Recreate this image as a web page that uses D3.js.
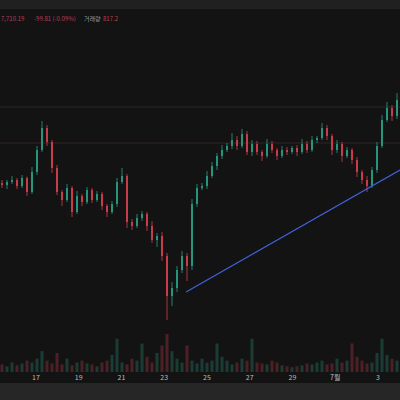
<!DOCTYPE html>
<html><head><meta charset="utf-8">
<script src="https://cdn.jsdelivr.net/npm/d3@7"></script>
<style>body{margin:0;background:#131313}svg{display:block}</style>
</head><body><svg id="c" width="400" height="400"></svg>
<script>
// closes, one per candle
const closes = [7510,7516,7520,7508,7524,7496,7536,7580,7624,7596,7544,7496,7480,7504,7456,7488,7476,7500,7480,7492,7468,7456,7472,7516,7528,7436,7428,7444,7452,7428,7400,7408,7368,7288,7304,7340,7368,7348,7472,7504,7508,7528,7548,7568,7580,7588,7600,7588,7612,7576,7592,7576,7568,7592,7580,7568,7580,7576,7584,7576,7592,7580,7600,7604,7624,7608,7580,7592,7568,7580,7560,7536,7520,7508,7540,7588,7640,7664,7648,7680,7690];
const wickUp = [6,4,8,4,6,3,10,8,14,6,4,6,4,8,4,10,4,6,4,6,4,4,6,8,16,4,6,8,6,4,10,6,8,6,12,8,10,6,10,8,6,10,8,6,10,6,14,8,10,6,8,6,4,10,6,4,8,6,4,6,10,6,8,4,10,6,4,8,4,6,4,6,4,8,6,8,10,12,6,14,10];
const wickDn = [6,8,4,6,4,8,4,6,4,8,10,6,12,4,10,4,8,4,6,4,8,10,4,6,4,12,8,4,6,10,6,14,10,48,20,8,6,30,8,6,4,6,4,8,6,4,6,8,4,6,8,6,10,4,6,8,4,6,4,8,4,6,4,6,4,8,10,6,12,4,8,10,8,12,4,6,4,4,10,6,4];
const volumes = [8,6,10,7,9,12,10,14,22,12,9,20,8,14,7,10,12,9,8,6,10,12,18,35,10,8,14,12,30,16,10,20,28,40,22,14,10,28,12,9,14,10,12,30,16,12,8,10,14,12,35,10,9,8,12,10,7,6,5,6,7,9,8,10,12,8,9,14,10,12,30,16,12,9,10,20,35,18,14,12,16];
const dayTicks = [17,19,21,23,25,27,29,31,33];
const dayLabels = ["17","19","21","23","25","27","29","7월","3"];
const levels = [7666,7594];
const trend = [{d:24.02,p:7296},{d:34.03,p:7540}];
const header = [["7,710.19",1],["-99.81 (-0.09%)",34],["거래량",84],["817.2",103]];

const svg = d3.select("#c");
const x = d3.scaleLinear().domain([17,33]).range([36,378]);
const y = d3.scaleLinear().domain([7220,7760]).range([330,60]);
const vy = d3.scaleLinear().domain([0,40]).range([372,334]);
const day0 = x.invert(2), step = x.invert(7) - x.invert(2);
const candles = closes.map((c,i)=>{
  const o = i ? closes[i-1] : c + 4;
  return {d: day0 + i*step, o, c, h: Math.max(o,c)+wickUp[i], l: Math.min(o,c)-wickDn[i], v: volumes[i]};
});
const up = "#2a9d84", dn = "#d2404f";

svg.append("rect").attr("width",400).attr("height",9).attr("fill","#202020");
svg.append("rect").attr("y",383).attr("width",400).attr("height",17).attr("fill","#262626");

svg.selectAll(".lvl").data(levels).join("line")
  .attr("x1",0).attr("x2",400).attr("y1",d=>y(d)).attr("y2",d=>y(d))
  .attr("stroke","#302527").attr("stroke-width",1);

svg.selectAll(".vol").data(candles).join("rect")
  .attr("x",d=>x(d.d)-1.5).attr("width",3)
  .attr("y",d=>vy(d.v)).attr("height",d=>372-vy(d.v))
  .attr("fill",d=>d.c>=d.o?up:dn).attr("opacity",0.3);

const g = svg.append("g");
g.selectAll("line").data(candles).join("line")
  .attr("x1",d=>x(d.d)).attr("x2",d=>x(d.d)).attr("y1",d=>y(d.h)).attr("y2",d=>y(d.l))
  .attr("stroke",d=>d.c>=d.o?up:dn).attr("stroke-width",0.8);
g.selectAll("rect").data(candles).join("rect")
  .attr("x",d=>x(d.d)-0.9).attr("width",1.8)
  .attr("y",d=>y(Math.max(d.o,d.c))).attr("height",d=>Math.max(1,Math.abs(y(d.o)-y(d.c))))
  .attr("fill",d=>d.c>=d.o?up:dn);

svg.append("line").attr("x1",x(trend[0].d)).attr("y1",y(trend[0].p))
  .attr("x2",x(trend[1].d)).attr("y2",y(trend[1].p))
  .attr("stroke","#3f63d8").attr("stroke-width",1.3);

svg.selectAll(".tk").data(dayTicks).join("text")
  .attr("x",d=>x(d)).attr("y",380).attr("text-anchor","middle")
  .attr("font-family","Noto Sans CJK KR, sans-serif").attr("font-size",7).attr("fill","#bbbbbb")
  .text((d,i)=>dayLabels[i]);

svg.selectAll(".hd").data(header).join("text")
  .attr("x",d=>d[1]).attr("y",21)
  .attr("font-family","Noto Sans CJK KR, sans-serif").attr("font-size",6)
  .attr("fill",(d,i)=>i==2?"#999":"#b8405a").text(d=>d[0]);
</script></body></html>
